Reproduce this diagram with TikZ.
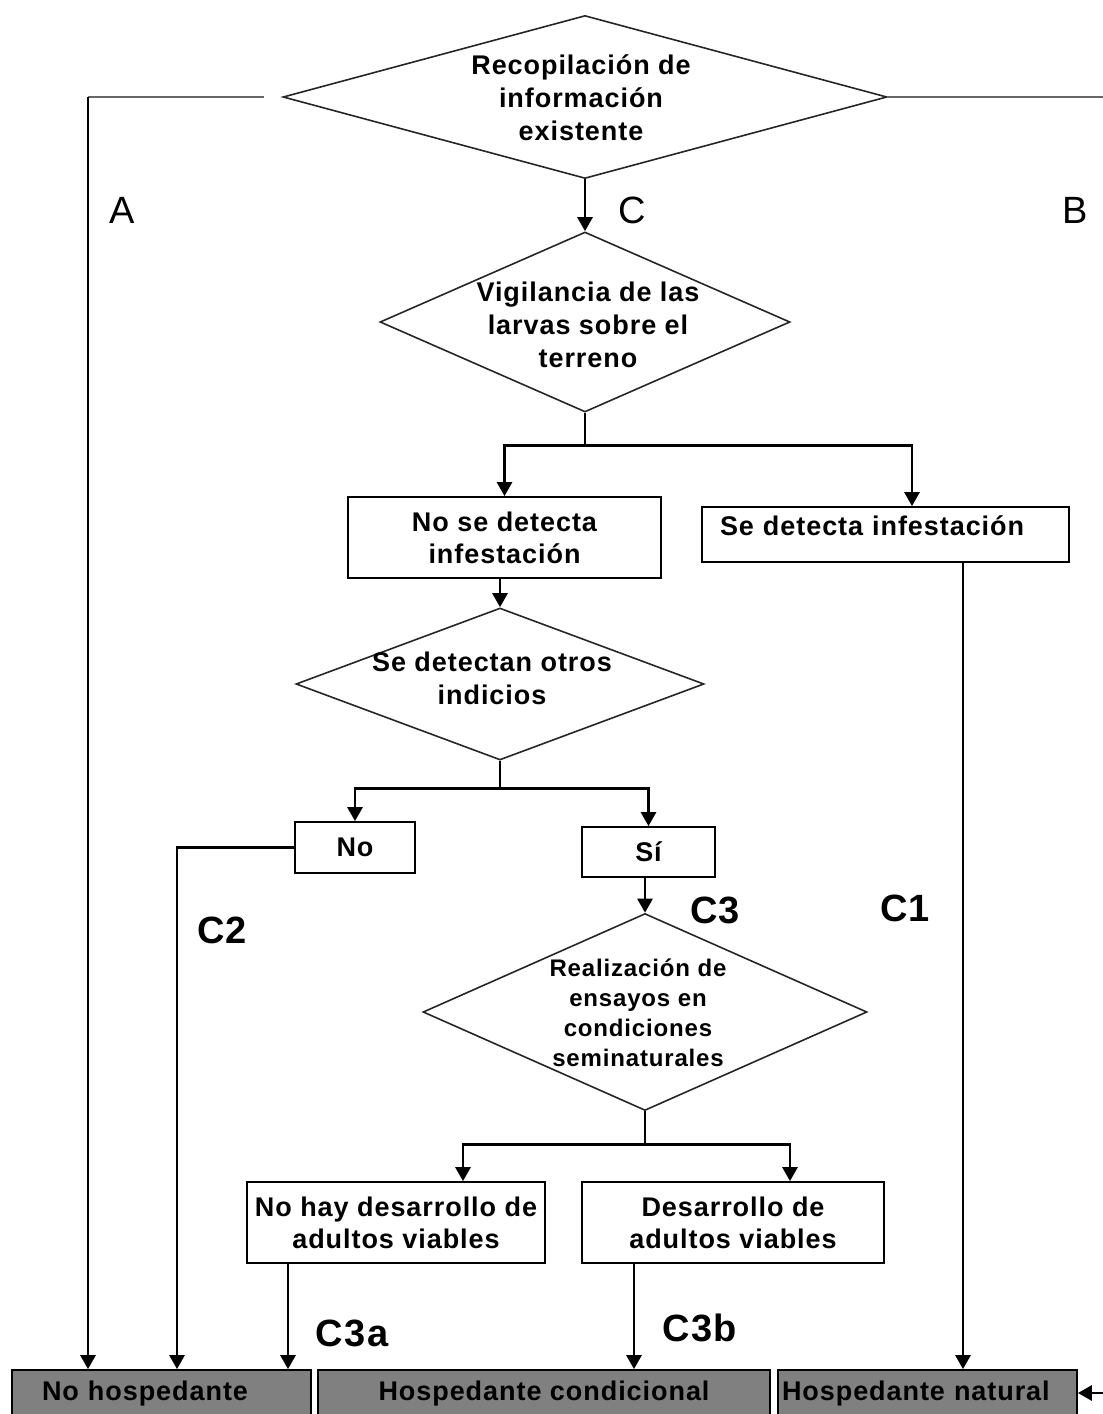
\documentclass[tikz,border=0pt]{standalone}
\usepackage{fontspec}
\setmainfont{Liberation Sans}[LetterSpace=3.5]
\usetikzlibrary{shapes.geometric,arrows.meta}

\begin{document}
\begin{tikzpicture}[x=1pt, y=-1pt,
  decision/.style={draw, diamond, inner sep=0pt, line width=1.6pt, black!85},
  box/.style={draw, rectangle, line width=1.8pt, align=center, font=\bfseries\fontsize{27}{32}\selectfont},
  outbox/.style={box, fill=black!50, minimum height=48pt},
  txt/.style={align=center, font=\bfseries\fontsize{27}{33}\selectfont},
  arr/.style={line width=2.8pt, -{Triangle[length=14pt,width=15pt]}},
  link/.style={line width=1.8pt},
  greyline/.style={line width=2.2pt, black!60},
  branch/.style={font=\fontsize{38}{40}\selectfont},
  tag/.style={font=\bfseries\fontsize{38}{40}\selectfont}]
\useasboundingbox (0,0) rectangle (1103,1414);
\clip (0,0) rectangle (1103,1414);

  \node [decision, minimum width=604pt, minimum height=163pt] (info) at (585,97) {};
  \node [txt] (info-t) at (581,98) {Recopilación de\\información\\existente};
  \node [decision, minimum width=410pt, minimum height=180pt] (vig) at (585,322) {};
  \node [txt] (vig-t) at (588,325) {Vigilancia de las\\larvas sobre el\\terreno};

  \node [box, minimum width=313pt, minimum height=81pt] (noinf) at (504.5,537.5) {No se detecta\\infestación};
  \node [box, align=left, text width=331pt, inner xsep=18pt, inner ysep=4pt, text height=24pt, text depth=23pt] (siinf) at (885.5,534.5) {Se detecta infestación};

  \node [decision, minimum width=408pt, minimum height=152pt] (otros) at (500,684) {};
  \node [txt] (otros-t) at (492,678) {Se detectan otros\\indicios};
  \node [box, minimum width=120pt, minimum height=51pt] (no) at (355,847.5) {No};
  \node [box, minimum width=133pt, minimum height=50pt] (si) at (648.5,852) {Sí};

  \node [decision, minimum width=444pt, minimum height=197pt] (ensayo) at (645,1012) {};
  \node [txt, font=\bfseries\fontsize{24}{30}\selectfont] (ensayo-t) at (638,1013) {Realización de\\ensayos en\\condiciones\\seminaturales};
  \node [box, minimum width=298pt, minimum height=81pt] (desno) at (396,1222.5) {No hay desarrollo de\\adultos viables};
  \node [box, minimum width=302pt, minimum height=81pt] (dessi) at (733,1222.5) {Desarrollo de\\adultos viables};

  % outcomes
  \node [outbox, align=left, text width=239pt, inner xsep=30pt] (nohosp) at (161.5,1394) {No hospedante};
  \node [outbox, minimum width=452pt] (cond) at (544,1394) {Hospedante condicional};
  \node [outbox, align=left, text width=291pt, inner xsep=4pt] (nat) at (927.5,1394) {Hospedante natural};

  % C
  \draw[arr] (info.south) -- (vig.north);
  \node [branch] (lc) at (632,210) {C};
  \draw[link] (vig.south) -- ++(0,33) coordinate (v1);
  \draw[arr] (v1) -| (noinf.north);
  \draw[arr] (v1) -| ([xshift=26.5pt]siinf.north);
  \draw[arr] (noinf.south -| otros.north) -- (otros.north);
  \draw[link] (otros.south) -- ++(0,28) coordinate (o1);
  \draw[arr] (o1) -| (no.north);
  \draw[arr] (o1) -| (si.north);
  \draw[arr] (no.west) -| ([xshift=15.5pt]nohosp.north);
  \node [tag] (lc2) at (222,930) {C2};
  \draw[arr] (ensayo.north |- si.south) -- (ensayo.north);
  \node [tag] (lc3) at (715,910) {C3};
  \draw[link] (ensayo.south) -- ++(0,33) coordinate (e1);
  \draw[arr] (e1) -| ([xshift=67pt]desno.north);
  \draw[arr] (e1) -| ([xshift=57pt]dessi.north);
  \coordinate (c3a) at ([xshift=-108pt]desno.south);
  \draw[arr] (c3a) -- (c3a |- nohosp.north);
  \node [tag] (lc3a) at (352,1333) {C3a};
  \coordinate (c3b) at ([xshift=-99pt]dessi.south);
  \draw[arr] (c3b) -- (c3b |- cond.north);
  \node [tag] (lc3b) at (700,1328) {C3b};
  \coordinate (c1) at ([xshift=77.5pt]siinf.south);
  \draw[arr] (c1) -- (c1 |- nat.north);
  \node [tag] (lc1) at (905,908) {C1};

  % A
  \coordinate (a0) at (88,97);
  \draw[greyline] ([xshift=-18pt]info.west) -- (a0);
  \draw[arr] (a0) -- (a0 |- nohosp.north);
  \node [branch] (la) at (122,210) {A};

  % B
  \draw[greyline] (info.east) -- (1103,97) coordinate (b0);
  \node [branch] (lb) at (1075,210) {B};
  \coordinate (b1) at (1103,1393);
  \draw[arr] (b1) -- (b1 -| nat.east);

\end{tikzpicture}
\end{document}
